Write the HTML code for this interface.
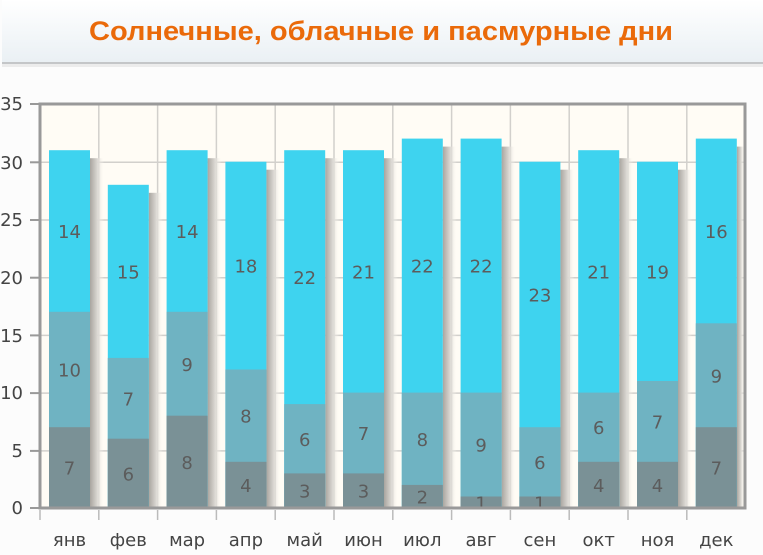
<!DOCTYPE html>
<html><head><meta charset="utf-8"><style>
html,body{margin:0;padding:0;background:#fff;}
svg{display:block;}
</style></head><body>
<svg width="763" height="555" viewBox="0 0 763 555" xmlns="http://www.w3.org/2000/svg" font-family="'DejaVu Sans', 'Liberation Sans', sans-serif">
<defs>
<linearGradient id="tb" x1="0" y1="0" x2="0" y2="1"><stop offset="0" stop-color="#ffffff"/><stop offset="1" stop-color="#eaf0f4"/></linearGradient>
<linearGradient id="sh" x1="0" y1="0" x2="1" y2="0"><stop offset="0" stop-color="#a9a59f"/><stop offset="0.5" stop-color="#d8d5d0"/><stop offset="1" stop-color="#fffcf5" stop-opacity="0"/></linearGradient>
</defs>
<rect x="0" y="0" width="763" height="555" fill="#fcfcfc"/>
<rect x="2" y="0" width="761" height="62" fill="url(#tb)"/>
<rect x="2" y="62" width="761" height="2" fill="#c4c6c8"/>
<rect x="2" y="64" width="761" height="3" fill="#ececec"/>
<text x="381" y="40" text-anchor="middle" font-family="'Liberation Sans', sans-serif" font-size="27" font-weight="bold" fill="#ea6a0a" textLength="584" lengthAdjust="spacingAndGlyphs">Солнечные, облачные и пасмурные дни</text>
<rect x="40" y="104" width="705" height="404" fill="#fffcf5"/>
<g stroke="#d2d0cc" stroke-width="1.5">
<line x1="40" y1="162.3" x2="745" y2="162.3"/><line x1="40" y1="220" x2="745" y2="220"/><line x1="40" y1="277.7" x2="745" y2="277.7"/><line x1="40" y1="335.4" x2="745" y2="335.4"/><line x1="40" y1="393.1" x2="745" y2="393.1"/><line x1="40" y1="450.9" x2="745" y2="450.9"/>
<line x1="98.8" y1="104" x2="98.8" y2="508"/><line x1="157.6" y1="104" x2="157.6" y2="508"/><line x1="216.4" y1="104" x2="216.4" y2="508"/><line x1="275.2" y1="104" x2="275.2" y2="508"/><line x1="334" y1="104" x2="334" y2="508"/><line x1="392.8" y1="104" x2="392.8" y2="508"/><line x1="451.6" y1="104" x2="451.6" y2="508"/><line x1="510.4" y1="104" x2="510.4" y2="508"/><line x1="569.2" y1="104" x2="569.2" y2="508"/><line x1="628" y1="104" x2="628" y2="508"/><line x1="686.8" y1="104" x2="686.8" y2="508"/>
</g>
<g fill="url(#sh)">
<rect x="90" y="158.2" width="14" height="349.8"/>
<rect x="148.8" y="192.8" width="14" height="315.2"/>
<rect x="207.6" y="158.2" width="14" height="349.8"/>
<rect x="266.4" y="169.7" width="14" height="338.3"/>
<rect x="325.2" y="158.2" width="14" height="349.8"/>
<rect x="384" y="158.2" width="14" height="349.8"/>
<rect x="442.8" y="146.6" width="14" height="361.4"/>
<rect x="501.6" y="146.6" width="14" height="361.4"/>
<rect x="560.4" y="169.7" width="14" height="338.3"/>
<rect x="619.2" y="158.2" width="14" height="349.8"/>
<rect x="678" y="169.7" width="14" height="338.3"/>
<rect x="736.8" y="146.6" width="8" height="361.4"/>
</g>
<g fill="#3ed3ef">
<rect x="49" y="150.2" width="41" height="357.8"/>
<rect x="107.8" y="184.8" width="41" height="323.2"/>
<rect x="166.6" y="150.2" width="41" height="357.8"/>
<rect x="225.4" y="161.7" width="41" height="346.3"/>
<rect x="284.2" y="150.2" width="41" height="357.8"/>
<rect x="343" y="150.2" width="41" height="357.8"/>
<rect x="401.8" y="138.6" width="41" height="369.4"/>
<rect x="460.6" y="138.6" width="41" height="369.4"/>
<rect x="519.4" y="161.7" width="41" height="346.3"/>
<rect x="578.2" y="150.2" width="41" height="357.8"/>
<rect x="637" y="161.7" width="41" height="346.3"/>
<rect x="695.8" y="138.6" width="41" height="369.4"/>
</g>
<g fill="#6fb3c2">
<rect x="49" y="311.8" width="41" height="196.2"/>
<rect x="107.8" y="357.9" width="41" height="150.1"/>
<rect x="166.6" y="311.8" width="41" height="196.2"/>
<rect x="225.4" y="369.5" width="41" height="138.5"/>
<rect x="284.2" y="404.1" width="41" height="103.9"/>
<rect x="343" y="392.6" width="41" height="115.4"/>
<rect x="401.8" y="392.6" width="41" height="115.4"/>
<rect x="460.6" y="392.6" width="41" height="115.4"/>
<rect x="519.4" y="427.2" width="41" height="80.8"/>
<rect x="578.2" y="392.6" width="41" height="115.4"/>
<rect x="637" y="381" width="41" height="127"/>
<rect x="695.8" y="323.3" width="41" height="184.7"/>
</g>
<g fill="#7a9196">
<rect x="49" y="427.2" width="41" height="80.8"/>
<rect x="107.8" y="438.7" width="41" height="69.3"/>
<rect x="166.6" y="415.7" width="41" height="92.3"/>
<rect x="225.4" y="461.8" width="41" height="46.2"/>
<rect x="284.2" y="473.4" width="41" height="34.6"/>
<rect x="343" y="473.4" width="41" height="34.6"/>
<rect x="401.8" y="484.9" width="41" height="23.1"/>
<rect x="460.6" y="496.5" width="41" height="11.5"/>
<rect x="519.4" y="496.5" width="41" height="11.5"/>
<rect x="578.2" y="461.8" width="41" height="46.2"/>
<rect x="637" y="461.8" width="41" height="46.2"/>
<rect x="695.8" y="427.2" width="41" height="80.8"/>
</g>
<g font-size="18" fill="#5c5c5c" text-anchor="middle">
<text x="69.5" y="474.6">7</text><text x="69.5" y="376.5">10</text><text x="69.5" y="238">14</text>
<text x="128.3" y="480.4">6</text><text x="128.3" y="405.3">7</text><text x="128.3" y="278.4">15</text>
<text x="187.1" y="468.9">8</text><text x="187.1" y="370.8">9</text><text x="187.1" y="238">14</text>
<text x="245.9" y="491.9">4</text><text x="245.9" y="422.7">8</text><text x="245.9" y="272.6">18</text>
<text x="304.7" y="497.7">3</text><text x="304.7" y="445.8">6</text><text x="304.7" y="284.2">22</text>
<text x="363.5" y="497.7">3</text><text x="363.5" y="440">7</text><text x="363.5" y="278.4">21</text>
<text x="422.3" y="503.5">2</text><text x="422.3" y="445.8">8</text><text x="422.3" y="272.6">22</text>
<text x="481.1" y="509.3">1</text><text x="481.1" y="451.6">9</text><text x="481.1" y="272.6">22</text>
<text x="539.9" y="509.3">1</text><text x="539.9" y="468.9">6</text><text x="539.9" y="301.5">23</text>
<text x="598.7" y="491.9">4</text><text x="598.7" y="434.2">6</text><text x="598.7" y="278.4">21</text>
<text x="657.5" y="491.9">4</text><text x="657.5" y="428.4">7</text><text x="657.5" y="278.4">19</text>
<text x="716.3" y="474.6">7</text><text x="716.3" y="382.3">9</text><text x="716.3" y="238">16</text>
</g>
<rect x="40" y="104" width="705" height="404" fill="none" stroke="#999" stroke-width="3"/>
<g stroke="#999" stroke-width="2">
<line x1="30" y1="104" x2="40" y2="104"/><line x1="30" y1="162.3" x2="40" y2="162.3"/><line x1="30" y1="220" x2="40" y2="220"/><line x1="30" y1="277.7" x2="40" y2="277.7"/><line x1="30" y1="335.4" x2="40" y2="335.4"/><line x1="30" y1="393.1" x2="40" y2="393.1"/><line x1="30" y1="450.9" x2="40" y2="450.9"/><line x1="30" y1="508" x2="40" y2="508"/>
</g>
<g stroke="#bbb" stroke-width="1.5">
<line x1="40" y1="510" x2="40" y2="520"/><line x1="98.8" y1="510" x2="98.8" y2="520"/><line x1="157.6" y1="510" x2="157.6" y2="520"/><line x1="216.4" y1="510" x2="216.4" y2="520"/><line x1="275.2" y1="510" x2="275.2" y2="520"/><line x1="334" y1="510" x2="334" y2="520"/><line x1="392.8" y1="510" x2="392.8" y2="520"/><line x1="451.6" y1="510" x2="451.6" y2="520"/><line x1="510.4" y1="510" x2="510.4" y2="520"/><line x1="569.2" y1="510" x2="569.2" y2="520"/><line x1="628" y1="510" x2="628" y2="520"/><line x1="686.8" y1="510" x2="686.8" y2="520"/>
</g>
<g font-size="18" fill="#444" text-anchor="end">
<text x="23" y="110">35</text><text x="23" y="169">30</text><text x="23" y="226">25</text><text x="23" y="284">20</text><text x="23" y="342">15</text><text x="23" y="399">10</text><text x="23" y="457">5</text><text x="23" y="514">0</text>
</g>
<g font-size="18" fill="#444" text-anchor="middle">
<text x="69.5" y="546">янв</text><text x="128.3" y="546">фев</text><text x="187.1" y="546">мар</text><text x="245.9" y="546">апр</text><text x="304.7" y="546">май</text><text x="363.5" y="546">июн</text><text x="422.3" y="546">июл</text><text x="481.1" y="546">авг</text><text x="539.9" y="546">сен</text><text x="598.7" y="546">окт</text><text x="657.5" y="546">ноя</text><text x="716.3" y="546">дек</text>
</g>
</svg>
</body></html>
